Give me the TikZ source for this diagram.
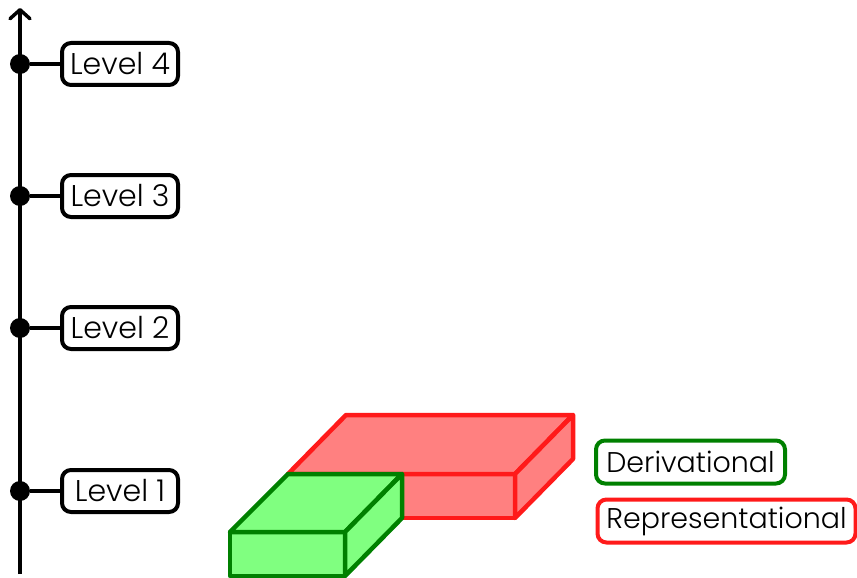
\documentclass[tikz,border=0pt]{standalone}
\usepackage{fontspec}
\setmainfont{Poppins Light}
\usetikzlibrary{arrows.meta}
\definecolor{dgreen}{HTML}{008000}
\definecolor{lgreen}{HTML}{80FF80}
\definecolor{bred}{HTML}{FF1A1A}
\definecolor{lred}{HTML}{FF8080}
\tikzset{
  levelbox/.style={draw, line width=4pt, rounded corners=9pt, minimum width=116pt,
    minimum height=42pt, inner sep=0pt, font=\fontsize{30}{32}\selectfont},
  legendbox/.style={draw, line width=4pt, rounded corners=9pt, minimum height=43pt,
    inner sep=0pt, font=\fontsize{28.5}{32}\selectfont},
  dot/.style={circle, fill, inner sep=0pt, minimum size=20pt},
  axisline/.style={line width=4.5pt},
  greenface/.style={fill=lgreen, draw=dgreen, line width=4.5pt, line join=round},
  redface/.style={fill=lred, draw=bred, line width=4.5pt, line join=round},
}
\begin{document}
\begin{tikzpicture}[x=1pt, y=-1pt]
\useasboundingbox (0,0) rectangle (857,578);

% vertical axis
\coordinate (axbot) at (20,574);
\coordinate (axtop) at (20,8);
\draw[axisline, -{Straight Barb[length=9pt, width=20pt, line width=3.5pt, round]}] (axbot) -- (axtop);

% levels on the axis
\foreach \n/\y in {1/491, 2/328, 3/196, 4/64} {
  \node[dot] (d\n) at (20,\y) {};
  \node[levelbox] (l\n) at (120,\y) {Level \n};
  \draw[axisline] (d\n) -- (l\n.west);
}

% representational block
\coordinate (r1) at (288,474);
\coordinate (r2) at (515,474);
\coordinate (r3) at (515,518);
\coordinate (r4) at (288,518);
\coordinate (r5) at (346,415);
\coordinate (r6) at (573,415);
\coordinate (r7) at (573,459);
\draw[redface] (r1) -- (r2) -- (r3) -- (r4) -- cycle;
\draw[redface] (r1) -- (r5) -- (r6) -- (r2) -- cycle;
\draw[redface] (r2) -- (r6) -- (r7) -- (r3) -- cycle;

% derivational block
\coordinate (g1) at (230,532);
\coordinate (g2) at (345,532);
\coordinate (g3) at (345,576);
\coordinate (g4) at (230,576);
\coordinate (g5) at (288,474);
\coordinate (g6) at (402,474);
\coordinate (g7) at (402,518);
\draw[greenface] (g1) -- (g2) -- (g3) -- (g4) -- cycle;
\draw[greenface] (g1) -- (g5) -- (g6) -- (g2) -- cycle;
\draw[greenface] (g2) -- (g6) -- (g7) -- (g3) -- cycle;

% legend
\node[legendbox, draw=dgreen, minimum width=189pt] (der) at (690.5,462) {Derivational};
\node[legendbox, draw=bred, minimum width=258pt] (rep) at (726.5,521) {Representational};
\end{tikzpicture}
\end{document}
